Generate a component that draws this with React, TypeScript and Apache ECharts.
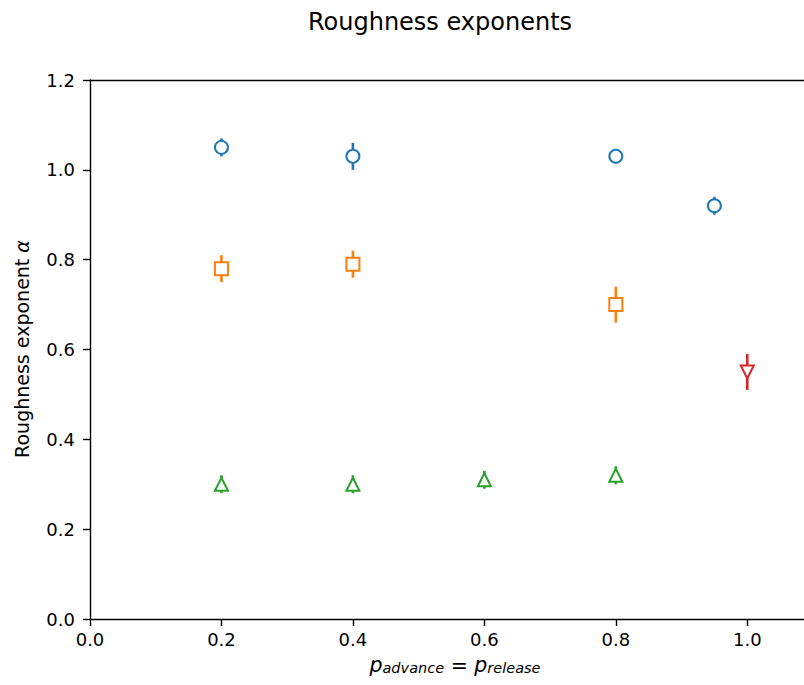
import React, { useEffect, useRef } from "react";
import * as echarts from "echarts";

// Circles (blue)
const circleX = [0.2, 0.4, 0.8, 0.95];
const circleY = [1.05, 1.03, 1.03, 0.92];
const circleErr = [0.02, 0.03, 0.004, 0.02];
// Squares (orange)
const squareX = [0.2, 0.4, 0.8];
const squareY = [0.78, 0.79, 0.7];
const squareErr = [0.03, 0.03, 0.04];
// Up triangles (green)
const triUpX = [0.2, 0.4, 0.6, 0.8];
const triUpY = [0.3, 0.3, 0.31, 0.32];
const triUpErr = [0.02, 0.02, 0.02, 0.02];
// Down triangle (red)
const triDownX = [1.0];
const triDownY = [0.55];
const triDownErr = [0.04];

const yTicks = [0.0, 0.2, 0.4, 0.6, 0.8, 1.0, 1.2];

const FONT = "DejaVu Sans";

function points(xs: number[], ys: number[]) {
  return xs.map((x, i) => [x, ys[i]]);
}
function bars(xs: number[], ys: number[], es: number[]) {
  return xs.map((x, i) => [x, ys[i] - es[i], ys[i] + es[i]]);
}

export default function App() {
  const ref = useRef<HTMLDivElement>(null);
  useEffect(() => {
    if (!ref.current) return;
    const chart = echarts.init(ref.current, undefined, { renderer: "svg" });

    const errSeries = (data: number[][], color: string) => ({
      type: "custom",
      data,
      z: 2,
      renderItem: (params: any, api: any) => {
        const p1 = api.coord([api.value(0), api.value(1)]);
        const p2 = api.coord([api.value(0), api.value(2)]);
        return {
          type: "line",
          shape: { x1: p1[0], y1: p1[1], x2: p2[0], y2: p2[1] },
          style: { stroke: color, lineWidth: 2.6 },
        };
      },
      encode: { x: 0, y: [1, 2] },
    });

    const scatter = (data: number[][], color: string, symbol: string, size: number, rotate = 0) => ({
      type: "scatter",
      data,
      z: 3,
      symbol,
      symbolSize: size,
      symbolRotate: rotate,
      itemStyle: { color: "#ffffff", borderColor: color, borderWidth: 2, opacity: 1 },
    });

    const blue = "#1f77b4";
    const orange = "#ff7f0e";
    const green = "#2ca02c";
    const red = "#d62728";

    chart.setOption({
      animation: false,
      backgroundColor: "#ffffff",
      grid: { left: 90, right: 0, top: 80, bottom: 66, containLabel: false },
      xAxis: [
        {
          type: "value",
          min: 0,
          max: 1.1,
          interval: 0.2,
          axisLine: { show: true, lineStyle: { color: "#000", width: 1.4 } },
          axisTick: { show: true, length: 7, lineStyle: { color: "#000", width: 1.4 } },
          axisLabel: {
            color: "#000",
            fontFamily: FONT,
            fontSize: 18,
            margin: 11,
            formatter: (v: number) => v.toFixed(1),
            showMaxLabel: false,
          },
          splitLine: { show: false },
        },
        {
          type: "value",
          position: "top",
          min: 0,
          max: 1.1,
          axisLine: { show: true, lineStyle: { color: "#000", width: 1.4 } },
          axisTick: { show: false },
          axisLabel: { show: false },
          splitLine: { show: false },
        },
      ],
      yAxis: {
        type: "value",
        min: yTicks[0],
        max: yTicks[yTicks.length - 1],
        interval: 0.2,
        axisLine: { show: true, lineStyle: { color: "#000", width: 1.4 } },
        axisTick: { show: true, length: 7, lineStyle: { color: "#000", width: 1.4 } },
        axisLabel: {
          color: "#000",
          fontFamily: FONT,
          fontSize: 18,
          margin: 15,
          formatter: (v: number) => v.toFixed(1),
        },
        splitLine: { show: false },
      },
      graphic: [
        {
          type: "text",
          x: 440,
          y: 22,
          style: {
            text: "Roughness exponents",
            font: `24px "${FONT}"`,
            fill: "#000",
            textAlign: "center",
            textVerticalAlign: "middle",
          },
        },
        {
          type: "text",
          x: 22,
          y: 349,
          rotation: Math.PI / 2,
          style: {
            text: "{n|Roughness exponent }{a|α}",
            textAlign: "center",
            textVerticalAlign: "middle",
            fill: "#000",
            rich: {
              n: { fontFamily: FONT, fontSize: 19, fill: "#000" },
              a: { fontFamily: FONT, fontSize: 19, fontStyle: "italic", fill: "#000" },
            },
          },
        },
        {
          type: "text",
          x: 455,
          y: 665,
          style: {
            text: "{p|p}{s|advance}{e| = }{p|p}{s|release}",
            textAlign: "center",
            textVerticalAlign: "middle",
            fill: "#000",
            rich: {
              p: { fontFamily: FONT, fontSize: 20.5, fontStyle: "italic", fill: "#000", lineHeight: 20, verticalAlign: "top" },
              s: { fontFamily: FONT, fontSize: 14.5, fontStyle: "italic", fill: "#000", lineHeight: 20, verticalAlign: "bottom" },
              e: { fontFamily: FONT, fontSize: 20.5, fill: "#000", lineHeight: 20, verticalAlign: "top" },
            },
          },
        },
      ],
      series: [
        errSeries(bars(circleX, circleY, circleErr), blue),
        errSeries(bars(squareX, squareY, squareErr), orange),
        errSeries(bars(triUpX, triUpY, triUpErr), green),
        errSeries(bars(triDownX, triDownY, triDownErr), red),
        scatter(points(circleX, circleY), blue, "circle", 13),
        scatter(points(squareX, squareY), orange, "rect", 13),
        scatter(points(triUpX, triUpY), green, "triangle", 13),
        scatter(points(triDownX, triDownY), red, "triangle", 13, 180),
      ],
    });
    return () => chart.dispose();
  }, []);
  return (
    <div style={{ position: "fixed", left: 0, top: 0, width: 804, height: 685, overflow: "hidden" }}>
      <div ref={ref} style={{ width: 813, height: 685 }} />
    </div>
  );
}
